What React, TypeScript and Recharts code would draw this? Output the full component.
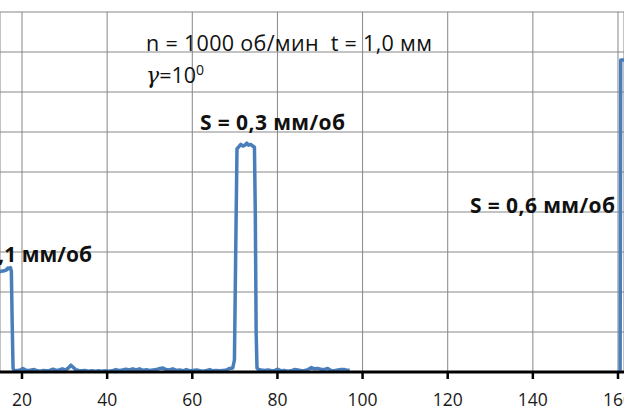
import { CartesianGrid, Line, LineChart, XAxis, YAxis } from "recharts";

// position along the record (x) and signal level (y); null = no data
const SIGNAL_X = [
  14.6, 15.2, 15.8, 16.3, 16.7, 17.0, 17.3, 17.5, 17.7, 17.9, 18.1,
  18.4, 19.0, 19.6, 20.2, 20.8, 21.5, 22.2, 22.9, 23.6, 24.3, 25.0, 25.8,
  26.5, 27.3, 28.0, 28.7, 29.5, 30.2, 30.9, 31.5, 32.0, 32.6, 33.3, 34.0,
  34.8, 35.6, 36.4, 37.2, 38.0, 38.8, 39.6, 40.4, 41.2, 42.0, 42.8, 43.6,
  44.4, 45.2, 46.0, 46.8, 47.6, 48.4, 49.2, 50.0, 50.8, 51.6, 52.4, 53.1,
  53.8, 54.6, 55.4, 56.2, 57.0, 57.8, 58.6, 59.4, 60.2, 61.0, 61.8, 62.6,
  63.4, 64.1, 64.8, 65.6, 66.4, 67.2, 68.0, 68.8, 69.5, 69.9, 70.2, 70.5,
  70.9, 71.4, 71.9, 72.4, 72.8, 73.2, 73.7, 74.2, 74.6, 74.8, 75.0, 75.2,
  75.6, 76.2, 77.0, 77.8, 78.6, 79.4, 80.1, 80.8, 81.6, 82.4, 83.2, 84.0,
  84.8, 85.6, 86.4, 87.2, 88.0, 88.7, 89.4, 90.2, 91.0, 91.8, 92.6, 93.4,
  94.2, 95.0, 95.8, 96.6, 97.0, 97.5, 160.5, 160.65, 162.0,
];
const SIGNAL_Y = [
  2.5, 2.52, 2.53, 2.55, 2.6, 2.58, 2.61, 2.52, 1.2, 0.1, 0.03,
  0.03, 0.04, 0.05, 0.09, 0.05, 0.03, 0.05, 0.06, 0.03, 0.02, 0.04, 0.03,
  0.04, 0.07, 0.04, 0.05, 0.08, 0.05, 0.1, 0.17, 0.12, 0.06, 0.04, 0.03,
  0.04, 0.02, 0.03, 0.02, 0.03, 0.02, 0.03, 0.02, 0.03, 0.06, 0.04, 0.05,
  0.07, 0.05, 0.08, 0.05, 0.08, 0.04, 0.06, 0.04, 0.05, 0.06, 0.09, 0.1,
  0.06, 0.05, 0.08, 0.04, 0.05, 0.03, 0.06, 0.03, 0.04, 0.05, 0.03, 0.02,
  0.04, 0.06, 0.03, 0.04, 0.03, 0.04, 0.05, 0.09, 0.1, 0.3, 3.0, 5.58,
  5.63, 5.69, 5.65, 5.67, 5.72, 5.67, 5.69, 5.65, 5.62, 4.0, 1.0, 0.1,
  0.06, 0.05, 0.04, 0.05, 0.03, 0.04, 0.07, 0.03, 0.04, 0.02, 0.03, 0.06,
  0.05, 0.03, 0.04, 0.06, 0.11, 0.08, 0.09, 0.07, 0.06, 0.09, 0.04, 0.03,
  0.05, 0.06, 0.06, 0.04, 0.05, null, 0.03, 7.8, 7.8,
];

const X_TICKS = [20, 40, 60, 80, 100, 120, 140, 160];
const Y_TICKS = [0, 1, 2, 3, 4, 5, 6, 7, 8, 9];

const data = SIGNAL_X.map((x, i) => ({ x, y: SIGNAL_Y[i] }));

const FONT = "'Open Sans', sans-serif";

export default function App() {
  return (
    <div style={{ position: "fixed", left: 0, top: 0, width: 624, height: 416, background: "#fff" }}>
      <LineChart width={624} height={416} data={data} margin={{ top: 12, right: 0, bottom: 0, left: 0 }}>
        <CartesianGrid stroke="#878787" strokeWidth={1} />
        <XAxis
          dataKey="x"
          type="number"
          domain={[14.832, 161.41]}
          allowDataOverflow
          ticks={X_TICKS}
          interval={0}
          height={44}
          axisLine={{ stroke: "#000", strokeWidth: 3 }}
          tickLine={{ stroke: "#000", strokeWidth: 2.5 }}
          tickSize={7}
          tickMargin={15}
          tick={{ fill: "#1a1a1a", fontSize: 17.5, fontFamily: FONT }}
        />
        <YAxis hide type="number" domain={[0, 9]} ticks={Y_TICKS} />
        <Line
          dataKey="y"
          type="linear"
          stroke="#4a7ebb"
          strokeWidth={3.5}
          strokeLinejoin="round"
          dot={false}
          connectNulls={false}
          isAnimationActive={false}
        />
      </LineChart>
      <svg
        width={624}
        height={416}
        style={{ position: "absolute", left: 0, top: 0, pointerEvents: "none" }}
        fontFamily={FONT}
        fill="#111"
      >
        <text x={146} y={51} fontSize={21.5} textLength={286} lengthAdjust="spacing">
          {"n = 1000 об/мин\u00a0 t = 1,0 мм"}
        </text>
        <text x={146} y={83} fontSize={21.5}>
          <tspan fontFamily="'DejaVu Serif', serif" fontStyle="italic" fontSize={22}>γ</tspan>
          <tspan>=10</tspan>
          <tspan dy={-8} fontSize={14}>0</tspan>
        </text>
        <text x={200} y={130} fontSize={21} fontWeight="bold" textLength={145} lengthAdjust="spacing">
          S = 0,3 мм/об
        </text>
        <text x={470} y={213} fontSize={21} fontWeight="bold" textLength={145} lengthAdjust="spacing">
          S = 0,6 мм/об
        </text>
        <text x={92} y={262} fontSize={21} fontWeight="bold" textAnchor="end">
          S = 0,1 мм/об
        </text>
      </svg>
    </div>
  );
}
